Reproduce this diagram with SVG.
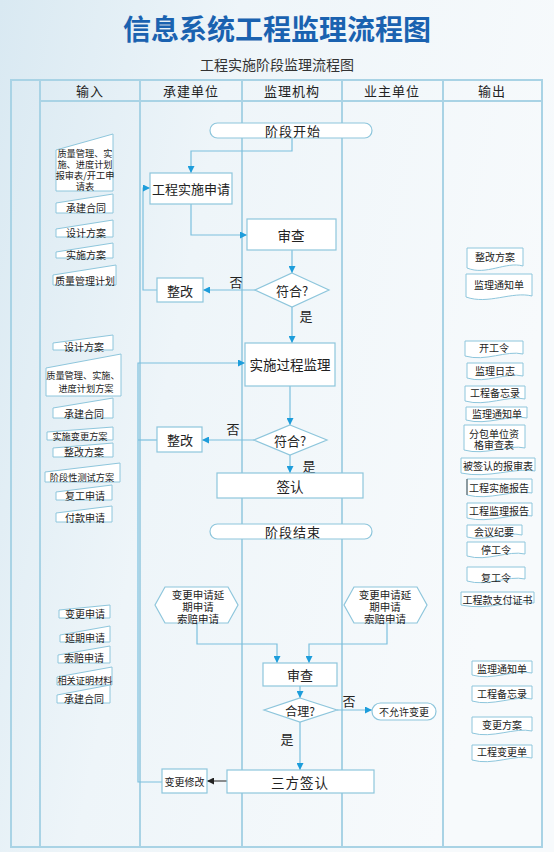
<svg xmlns="http://www.w3.org/2000/svg" width="554" height="852" viewBox="0 0 554 852">
<style>
text{font-family:"Noto Sans CJK SC","Noto Sans",sans-serif;fill:#222;text-anchor:middle;dominant-baseline:central}
.grid{stroke:#a9d3e5;stroke-width:2;fill:none}
.box{fill:#fff;stroke:#8ec6dc;stroke-width:1.2}
.doc{fill:#fff;stroke:#8ec6dc;stroke-width:1}
.ln{fill:none;stroke:#7cc0de;stroke-width:1.2}
.arr{marker-end:url(#ah)}
.m{font-size:13.5px}
.s{font-size:10px}
.t{font-size:9.2px}
.hx{font-size:10.5px}
.h{font-size:13px;letter-spacing:1px}
.lbl{font-size:13px}
</style>
<defs>
<linearGradient id="bg" x1="0" y1="0" x2="1" y2="0.3">
<stop offset="0" stop-color="#d9e9f2"/>
<stop offset="0.4" stop-color="#eef5f9"/>
<stop offset="1" stop-color="#f7fafc"/>
</linearGradient>
<marker id="ah" viewBox="0 0 10 10" refX="10" refY="5" markerWidth="7" markerHeight="7" markerUnits="userSpaceOnUse" orient="auto">
<path d="M0,0 L10,5 L0,10 z" fill="#1d9ddb"/>
</marker>
<marker id="ahk" viewBox="0 0 10 10" refX="10" refY="5" markerWidth="7" markerHeight="7" markerUnits="userSpaceOnUse" orient="auto">
<path d="M0,0 L10,5 L0,10 z" fill="#222"/>
</marker>
</defs>
<rect x="0" y="0" width="554" height="852" fill="url(#bg)"/>
<text x="277" y="28" style="font-size:28px;font-weight:bold;fill:#1a62b0">信息系统工程监理流程图</text>
<text x="277" y="64" style="font-size:14px;fill:#333">工程实施阶段监理流程图</text>

<g id="table">
<rect x="11" y="80" width="531" height="767" fill="#ffffff" fill-opacity="0.55" class="grid"/>
<line class="grid" x1="40" y1="80" x2="40" y2="847"/>
<line class="grid" x1="140" y1="80" x2="140" y2="847"/>
<line class="grid" x1="242" y1="80" x2="242" y2="847"/>
<line class="grid" x1="342" y1="80" x2="342" y2="847"/>
<line class="grid" x1="443" y1="80" x2="443" y2="847"/>
<line class="grid" x1="40" y1="101" x2="542" y2="101"/>
<text class="h" x="90" y="90">输入</text>
<text class="h" x="191" y="90">承建单位</text>
<text class="h" x="292" y="90">监理机构</text>
<text class="h" x="392" y="90">业主单位</text>
<text class="h" x="492" y="90">输出</text>
</g>

<g id="connectors">
<path class="ln arr" d="M292,138 V151 H191 V173"/>
<path class="ln arr" d="M191,204 V235 H247"/>
<path class="ln arr" d="M292,250 V273"/>
<path class="ln arr" d="M255,290 H203"/>
<path class="ln arr" d="M157,290 H143 V188 H150"/>
<path class="ln arr" d="M292,307 V343"/>
<path class="ln arr" d="M290,386 V425"/>
<path class="ln arr" d="M254,440 H202"/>
<path class="ln" d="M157,440 H138"/>
<path class="ln arr" d="M290,455 V473"/>
<path class="ln arr" d="M162,782 H138 V363 H245"/>
<path class="ln arr" d="M197,623 V644 H277 V663"/>
<path class="ln arr" d="M387,623 V644 H309 V663"/>
<path class="ln arr" d="M300,686 V698"/>
<path class="ln arr" d="M337,710 H372"/>
<path class="ln arr" d="M300,722 V770"/>
<path d="M227,781 H207" fill="none" stroke="#444" stroke-width="1.2" marker-end="url(#ahk)"/>
<text class="lbl" x="236" y="281">否</text>
<text class="lbl" x="306" y="315">是</text>
<text class="lbl" x="233" y="428">否</text>
<text class="lbl" x="309" y="465">是</text>
<text class="lbl" x="349" y="700">否</text>
<text class="lbl" x="287" y="738">是</text>
</g>

<g id="start">
<rect class="box" x="210" y="123" width="162" height="15" rx="7.5"/>
<text x="293" y="130.5" style="font-size:13px;letter-spacing:1px">阶段开始</text>
</g>
<g id="apply">
<rect class="box" x="150" y="173" width="82" height="31"/>
<text class="m" x="191" y="188.5" style="font-size:13px">工程实施申请</text>
</g>
<g id="review1">
<rect class="box" x="247" y="219" width="89" height="31"/>
<text class="m" x="291" y="235">审查</text>
</g>
<g id="check1">
<polygon class="box" points="292,273 329,290 292,307 255,290"/>
<text x="292" y="290" style="font-size:13px">符合?</text>
</g>
<g id="fix1">
<rect class="box" x="157" y="278" width="46" height="24"/>
<text x="180" y="290" style="font-size:13px">整改</text>
</g>
<g id="process">
<rect class="box" x="245" y="343" width="90" height="43"/>
<text class="m" x="290" y="364">实施过程监理</text>
</g>
<g id="check2">
<polygon class="box" points="290,425 327,440 290,455 254,440"/>
<text x="290" y="440" style="font-size:13px">符合?</text>
</g>
<g id="fix2">
<rect class="box" x="157" y="427" width="45" height="25"/>
<text x="180" y="439.5" style="font-size:13px">整改</text>
</g>
<g id="sign">
<rect class="box" x="217" y="473" width="146" height="25"/>
<text class="m" x="290" y="485.5">签认</text>
</g>
<g id="end">
<rect class="box" x="210" y="524" width="162" height="15" rx="7.5"/>
<text x="293" y="531.5" style="font-size:13px;letter-spacing:1px">阶段结束</text>
</g>
<g id="hexL">
<polygon class="box" points="165,587 228,587 238,605 228,623 165,623 155,605"/>
<text class="hx"><tspan x="198" y="594">变更申请延</tspan><tspan x="198" y="606">期申请</tspan><tspan x="198" y="618">索赔申请</tspan></text>
</g>
<g id="hexR">
<polygon class="box" points="354,587 417,587 427,605 417,623 354,623 344,605"/>
<text class="hx"><tspan x="385" y="594">变更申请延</tspan><tspan x="385" y="606">期申请</tspan><tspan x="385" y="618">索赔申请</tspan></text>
</g>
<g id="review2">
<rect class="box" x="263" y="663" width="74" height="23"/>
<text x="300" y="674.5" style="font-size:13px">审查</text>
</g>
<g id="reasonable">
<polygon class="box" points="300,698 337,710 300,722 264,710"/>
<text x="300" y="710" style="font-size:12px">合理?</text>
</g>
<g id="deny">
<rect class="box" x="372" y="703" width="64" height="17" rx="8.5"/>
<text class="s" x="404" y="711.5">不允许变更</text>
</g>
<g id="tripartite">
<rect class="box" x="227" y="770" width="147" height="23"/>
<text class="m" x="300" y="781.5" style="letter-spacing:1px">三方签认</text>
</g>
<g id="modify">
<rect class="box" x="162" y="769" width="45" height="24"/>
<text class="s" x="184.5" y="781">变更修改</text>
</g>

<g id="in1"><polygon class="doc" points="56,150 113,134 113,191 56,191"/>
<text class="t"><tspan x="85" y="153">质量管理、实</tspan><tspan x="85" y="164">施、进度计划</tspan><tspan x="85" y="175">报审表/开工申</tspan><tspan x="85" y="186">请表</tspan></text></g>
<g id="in2"><polygon class="doc" points="56,203 113,194 113,213 56,213"/><text class="s" x="86" y="207.5">承建合同</text></g>
<g id="in3"><polygon class="doc" points="56,229 113,220 113,237 56,237"/><text class="s" x="86" y="232">设计方案</text></g>
<g id="in4"><polygon class="doc" points="56,252 113,243 113,258 56,258"/><text class="s" x="86" y="254.5">实施方案</text></g>
<g id="in5"><polygon class="doc" points="53,275 116,265 116,285 53,285"/><text class="s" x="85" y="280">质量管理计划</text></g>
<g id="in6"><polygon class="doc" points="53,343 113,335 113,350 53,350"/><text class="s" x="84" y="346">设计方案</text></g>
<g id="in7"><polygon class="doc" points="46,368 121,354 121,396 46,396"/><text class="t"><tspan x="83" y="375">质量管理、实施、</tspan><tspan x="86" y="388">进度计划方案</tspan></text></g>
<g id="in8"><polygon class="doc" points="53,408 113,398 113,418 53,418"/><text class="s" x="84" y="413">承建合同</text></g>
<g id="in9"><polygon class="doc" points="47,432 113,427 113,440 47,440"/><text class="t" x="80" y="435.5">实施变更方案</text></g>
<g id="in10"><polygon class="doc" points="53,448 113,443 113,457 53,457"/><text class="s" x="84" y="451.5">整改方案</text></g>
<g id="in11"><polygon class="doc" points="45,472 120,463 120,482 45,482"/><text class="t" x="82" y="477">阶段性测试方案</text></g>
<g id="in12"><polygon class="doc" points="56,492 112,485 112,500 56,500"/><text class="s" x="85" y="495.5">复工申请</text></g>
<g id="in13"><polygon class="doc" points="56,513 112,506 112,522 56,522"/><text class="s" x="85" y="517">付款申请</text></g>
<g id="in14"><polygon class="doc" points="59,610 110,605 110,618 59,618"/><text class="s" x="85" y="613">变更申请</text></g>
<g id="in15"><polygon class="doc" points="60,635 110,626 110,642 60,642"/><text class="s" x="85" y="637">延期申请</text></g>
<g id="in16"><polygon class="doc" points="58,655 110,646 110,663 58,663"/><text class="s" x="84" y="657.5">索赔申请</text></g>
<g id="in17"><polygon class="doc" points="57,677 112,667 112,685 57,685"/><text class="t" x="85" y="680">相关证明材料</text></g>
<g id="in18"><polygon class="doc" points="57,695 110,685 110,703 57,703"/><text class="s" x="84" y="698.5">承建合同</text></g>

<g id="out1"><path class="doc" d="M467,248 H523 V266 C506,261 486,276 467,268 Z"/><text class="s" x="495" y="256">整改方案</text></g>
<g id="out2"><path class="doc" d="M466,274 H532 V296 C512,291 488,305 466,297 Z"/><text class="s" x="499" y="284">监理通知单</text></g>
<g id="out3"><path class="doc" d="M465,341 H523 V354 C506,350 486,362 465,356 Z"/><text class="s" x="494" y="347">开工令</text></g>
<g id="out4"><path class="doc" d="M467,363 H523 V376 C506,372 486,384 467,378 Z"/><text class="s" x="495" y="370">监理日志</text></g>
<g id="out5"><path class="doc" d="M465,386 H525 V399 C508,395 486,407 465,401 Z"/><text class="s" x="495" y="392.5">工程备忘录</text></g>
<g id="out6"><path class="doc" d="M466,407 H527 V418 C510,414 487,426 466,420 Z"/><text class="s" x="497" y="413">监理通知单</text></g>
<g id="out7"><path class="doc" d="M464,425 H525 V448 C508,444 485,456 464,450 Z"/><text class="s"><tspan x="494" y="433">分包单位资</tspan><tspan x="494" y="444">格审查表</tspan></text></g>
<g id="out8"><path class="doc" d="M461,458 H535 V471 C515,467 488,479 461,473 Z"/><text class="s" x="498" y="465">被签认的报审表</text></g>
<g id="out9"><path class="doc" d="M467,479 H532 V493 C514,489 489,501 467,495 Z"/><line x1="467" y1="479" x2="467" y2="495" stroke="#555" stroke-width="1"/><text class="s" x="499" y="487">工程实施报告</text></g>
<g id="out10"><path class="doc" d="M467,503 H532 V516 C514,512 489,524 467,518 Z"/><text class="s" x="499" y="510">工程监理报告</text></g>
<g id="out11"><path class="doc" d="M467,525 H522 V535 C506,531 486,542 467,537 Z"/><text class="s" x="494" y="531.5">会议纪要</text></g>
<g id="out12"><path class="doc" d="M467,542 H525 V554 C508,550 487,562 467,556 Z"/><text class="s" x="496" y="549.5">停工令</text></g>
<g id="out13"><path class="doc" d="M467,567 H525 V579 C508,575 487,587 467,581 Z"/><text class="s" x="496" y="577">复工令</text></g>
<g id="out14"><path class="doc" d="M461,592 H534 V603 C514,599 488,611 461,605 Z"/><text class="s" x="497.5" y="599.5">工程款支付证书</text></g>
<g id="out15"><path class="doc" d="M472,661 H532 V673 C515,669 492,681 472,675 Z"/><text class="s" x="502" y="668">监理通知单</text></g>
<g id="out16"><path class="doc" d="M472,686 H532 V699 C515,695 492,707 472,701 Z"/><text class="s" x="502" y="693">工程备忘录</text></g>
<g id="out17"><path class="doc" d="M472,717 H532 V731 C515,727 492,739 472,733 Z"/><text class="s" x="502" y="724">变更方案</text></g>
<g id="out18"><path class="doc" d="M472,745 H532 V758 C515,754 492,766 472,760 Z"/><text class="s" x="502" y="751.5">工程变更单</text></g>
</svg>
